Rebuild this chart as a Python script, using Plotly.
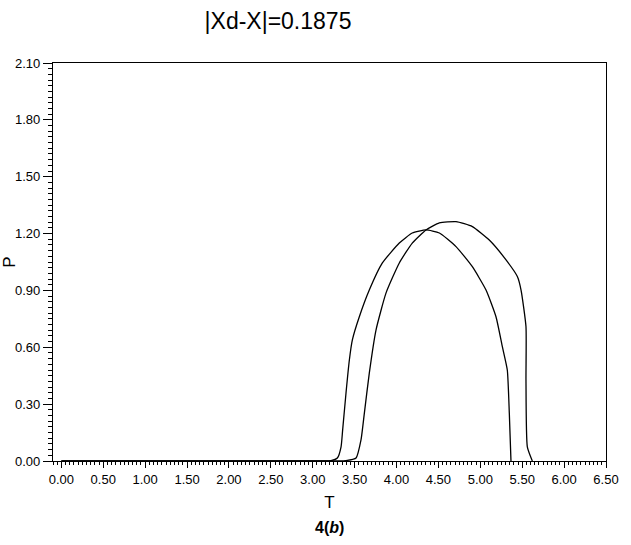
import plotly.graph_objects as go

# Curve A (lower peak, left)
t_a = [0.00, 3.10, 3.218, 3.294, 3.338, 3.357, 3.397, 3.437, 3.473, 3.556, 3.675, 3.831,
       4.033, 4.188, 4.352, 4.511, 4.710, 4.905, 5.068, 5.187, 5.263, 5.322, 5.346, 5.366]
p_a = [0.000, 0.000, 0.002, 0.016, 0.075, 0.164, 0.359, 0.533, 0.639, 0.761, 0.902, 1.045,
       1.150, 1.203, 1.219, 1.203, 1.131, 1.025, 0.902, 0.761, 0.603, 0.480, 0.253, 0.000]

# Curve B (higher peak, right)
t_b = [0.00, 3.30, 3.397, 3.517, 3.576, 3.616, 3.675, 3.755, 3.875, 4.033, 4.188, 4.352,
       4.511, 4.710, 4.905, 5.107, 5.307, 5.442, 5.486, 5.545, 5.545, 5.561, 5.621]
p_b = [0.000, 0.000, 0.002, 0.016, 0.111, 0.253, 0.464, 0.691, 0.887, 1.045, 1.150, 1.219,
       1.256, 1.263, 1.237, 1.166, 1.061, 0.973, 0.902, 0.709, 0.427, 0.075, 0.000]

title_text = "|Xd-X|=0.1875"
x_title = "T"
y_title = "P"
caption = "<b>4(<i>b</i>)</b>"
y_ticks = [0.0, 0.3, 0.6, 0.9, 1.2, 1.5, 1.8, 2.1]

FONT = "Liberation Sans, Arial, sans-serif"

fig = go.Figure()
for t, p in ((t_a, p_a), (t_b, p_b)):
    fig.add_trace(go.Scatter(x=t, y=p, mode="lines",
                             line=dict(color="black", width=1.3, shape="spline", smoothing=0.5),
                             showlegend=False, hoverinfo="skip"))

fig.update_layout(
    width=631, height=545,
    margin=dict(l=53, r=25, t=63, b=84),
    paper_bgcolor="white", plot_bgcolor="white",
    font=dict(family=FONT, color="black", size=13),
    title=dict(text=title_text, x=278 / 631, xanchor="center", y=1 - 21 / 545, yanchor="middle",
               font=dict(family=FONT, size=23, color="black")),
    showlegend=False,
)

fig.update_xaxes(
    range=[-0.1, 6.5], tick0=0, dtick=0.5, tickformat=".2f", automargin=False,
    showline=True, linecolor="black", linewidth=1.2, mirror=True,
    showgrid=False, zeroline=False,
    ticks="outside", ticklen=6, tickwidth=1, tickcolor="black",
    minor=dict(dtick=0.05, tick0=0, ticks="outside", ticklen=3, tickcolor="black", showgrid=False),
    tickfont=dict(family=FONT, size=13),
    title=dict(text=x_title, font=dict(family=FONT, size=17), standoff=10),
)
fig.update_yaxes(
    range=[0, 2.1], tickvals=y_ticks, tickformat=".2f", automargin=False,
    showline=True, linecolor="black", linewidth=1.2, mirror=True,
    showgrid=False, zeroline=False,
    ticks="outside", ticklen=9, tickwidth=1, tickcolor="black",
    minor=dict(dtick=0.03, tick0=0, ticks="outside", ticklen=4, tickcolor="black", showgrid=False),
    tickfont=dict(family=FONT, size=13),
    title=dict(text=y_title, font=dict(family=FONT, size=17), standoff=4),
)

fig.add_annotation(text=caption, xref="paper", yref="paper",
                   x=0.5, y=-(527 - 461) / (461 - 63), xanchor="center", yanchor="middle",
                   showarrow=False, font=dict(family=FONT, size=16, color="black"))

fig.write_html("out.html")
